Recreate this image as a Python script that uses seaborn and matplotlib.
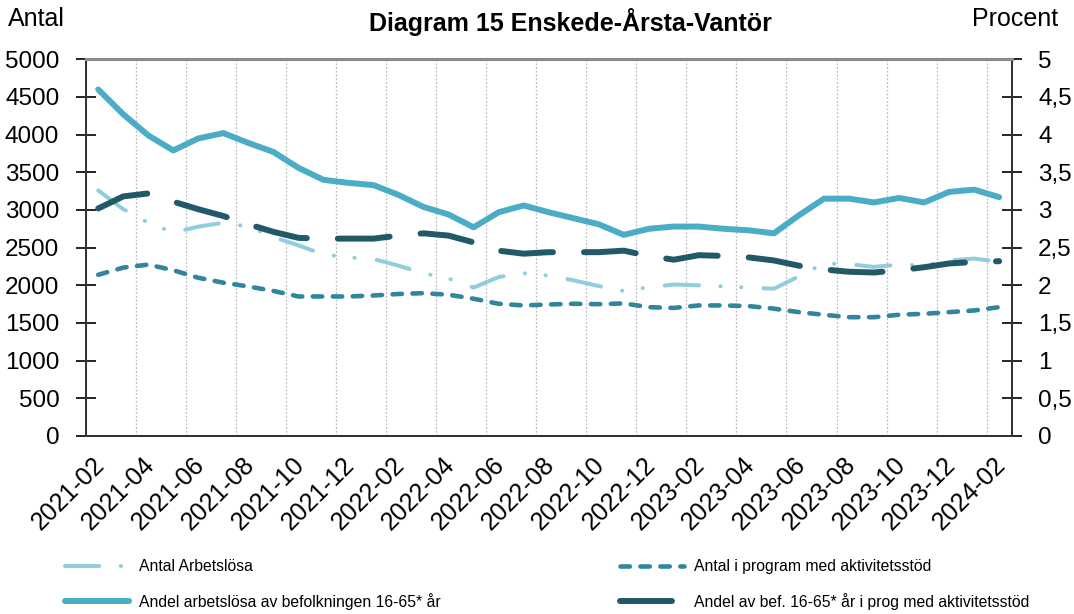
import numpy as np
import pandas as pd
import matplotlib
matplotlib.use("Agg")
import matplotlib.pyplot as plt
import matplotlib.transforms as mtransforms
import seaborn as sns

# ---------------- data ----------------
months = ["2021-02", "2021-03", "2021-04", "2021-05", "2021-06", "2021-07", "2021-08",
          "2021-09", "2021-10", "2021-11", "2021-12", "2022-01", "2022-02", "2022-03",
          "2022-04", "2022-05", "2022-06", "2022-07", "2022-08", "2022-09", "2022-10",
          "2022-11", "2022-12", "2023-01", "2023-02", "2023-03", "2023-04", "2023-05",
          "2023-06", "2023-07", "2023-08", "2023-09", "2023-10", "2023-11", "2023-12",
          "2024-01", "2024-02"]

antal_arbetslosa = [3260, 3010, 2830, 2700, 2780, 2830, 2780, 2640, 2530, 2410, 2370, 2350,
                    2260, 2160, 2090, 1970, 2110, 2160, 2130, 2065, 1990, 1925, 1975, 2010,
                    2000, 1985, 1970, 1955, 2120, 2290, 2280, 2245, 2275, 2265, 2330, 2355,
                    2315]

antal_program = [2140, 2235, 2275, 2200, 2100, 2035, 1985, 1925, 1852, 1852, 1852, 1865,
                 1885, 1896, 1875, 1822, 1755, 1733, 1746, 1755, 1750, 1760, 1710, 1700,
                 1733, 1733, 1724, 1690, 1644, 1609, 1577, 1577, 1609, 1622, 1644, 1666,
                 1710]

andel_arbetslosa = [4.60, 4.27, 3.99, 3.79, 3.95, 4.02, 3.89, 3.77, 3.56, 3.40, 3.36, 3.33,
                    3.20, 3.04, 2.94, 2.77, 2.97, 3.06, 2.97, 2.89, 2.81, 2.67, 2.75, 2.78,
                    2.78, 2.75, 2.73, 2.69, 2.93, 3.15, 3.15, 3.10, 3.16, 3.10, 3.24, 3.27,
                    3.17]

andel_program = [3.02, 3.18, 3.22, 3.11, 3.01, 2.92, 2.81, 2.71, 2.63, 2.62, 2.62, 2.62,
                 2.66, 2.69, 2.66, 2.57, 2.46, 2.42, 2.44, 2.44, 2.44, 2.46, 2.39, 2.34,
                 2.40, 2.39, 2.37, 2.33, 2.26, 2.21, 2.18, 2.17, 2.20, 2.24, 2.29, 2.31,
                 2.32]

labels = ["Antal Arbetslösa",
          "Antal i program med aktivitetsstöd",
          "Andel arbetslösa av befolkningen 16-65* år",
          "Andel av bef. 16-65* år i prog med aktivitetsstöd"]

left_ticks = [0, 500, 1000, 1500, 2000, 2500, 3000, 3500, 4000, 4500, 5000]
right_ticks = [0, 0.5, 1, 1.5, 2, 2.5, 3, 3.5, 4, 4.5, 5]
right_ticklabels = ["0", "0,5", "1", "1,5", "2", "2,5", "3", "3,5", "4", "4,5", "5"]

C_LIGHT = "#92CDDC"
C_MED = "#31859C"
C_SOLID = "#4BACC6"
C_DARK = "#215968"

# ---------------- plot ----------------
sns.set_theme(style="white")
plt.rcParams["font.family"] = ["Liberation Sans", "DejaVu Sans"]
plt.rcParams["text.color"] = "black"
plt.rcParams["axes.labelcolor"] = "black"
plt.rcParams["xtick.color"] = "black"
plt.rcParams["ytick.color"] = "black"

W, H = 1074, 614
fig = plt.figure(figsize=(W / 100, H / 100), dpi=100)
L, R, T, B = 85.7, 1011.7, 59.3, 436.0
ax = fig.add_axes([L / W, 1 - B / H, (R - L) / W, (B - T) / H])
ax2 = ax.twinx()

df = pd.DataFrame({
    "idx": np.arange(len(months)),
    "month": months,
    "antal_arbetslosa": antal_arbetslosa,
    "antal_program": antal_program,
    "andel_arbetslosa": andel_arbetslosa,
    "andel_program": andel_program,
})

def draw(axis, col, color, lw, dashes, label):
    sns.lineplot(data=df, x="idx", y=col, ax=axis, color=color, linewidth=lw,
                 label=label, legend=False, errorbar=None)
    line = axis.lines[-1]
    if dashes is not None:
        line.set_dashes(dashes)
    line.set_dash_capstyle("round")
    line.set_solid_capstyle("round")
    line.set_dash_joinstyle("round")
    line.set_solid_joinstyle("round")
    return line

l_med = draw(ax, "antal_program", C_MED, 3.3, (2.05, 2.3), labels[1])
l_light = draw(ax, "antal_arbetslosa", C_LIGHT, 2.9, (8.5, 5.35, 0.05, 5.1, 0.05, 5.5), labels[0])
l_solid = draw(ax2, "andel_arbetslosa", C_SOLID, 4.3, None, labels[2])
l_dark = draw(ax2, "andel_program", C_DARK, 4.3, (8.7, 5.2), labels[3])

TS = 17.5
for a in (ax, ax2):
    a.set_xlim(-0.5, len(months) - 0.5)
    a.set_xlabel("")
    a.set_ylabel("")
    a.grid(False)

ax.set_ylim(0, 5000)
ax2.set_ylim(0, 5)
ax.set_yticks(left_ticks)
ax.set_yticklabels([str(v) for v in left_ticks])
ax2.set_yticks(right_ticks)
ax2.set_yticklabels(right_ticklabels)

# x ticks: labels at every second month, tick marks / grid at category boundaries
ax.set_xticks(np.arange(0, len(months), 2))
ax.set_xticklabels(months[::2], rotation=45, ha="right", va="top", rotation_mode="anchor")
ax.set_xticks(np.arange(-0.5, len(months) - 0.5, 2), minor=True)
ax.tick_params(axis="x", which="major", length=0, pad=12, labelsize=18, colors="black")
ax.tick_params(axis="x", which="minor", length=12, width=1.2, direction="inout", color="#333333")
ax.grid(True, which="minor", axis="x", color="#BDBDBD", linestyle=(0, (1.5, 1.5)), linewidth=0.9)
ax.set_axisbelow(True)
shift = mtransforms.ScaledTranslation(-6 / 100, 0, fig.dpi_scale_trans)
for t in ax.xaxis.get_major_ticks():
    t.label1.set_transform(t.label1.get_transform() + shift)

ax.tick_params(axis="y", which="major", length=14, width=1.2, direction="inout",
               labelsize=TS, colors="black", pad=12, left=True)
ax2.tick_params(axis="y", which="major", length=14, width=1.2, direction="inout",
                labelsize=TS, colors="black", pad=12, right=True)
ax2.tick_params(axis="x", bottom=False, labelbottom=False)

for a in (ax, ax2):
    a.spines["top"].set_color("#8C8C8C")
    a.spines["top"].set_linewidth(2.2)
    for s in ("left", "right", "bottom"):
        a.spines[s].set_color("#333333")
        a.spines[s].set_linewidth(1.4)

# texts
fig.text(8 / W, 1 - 19 / H, "Antal", ha="left", va="center", fontsize=18)
fig.text(1058 / W, 1 - 19 / H, "Procent", ha="right", va="center", fontsize=18)
fig.text(570 / W, 1 - 22 / H, "Diagram 15 Enskede-Årsta-Vantör", ha="center", va="center",
         fontsize=18, fontweight="bold")

# legends (two columns)
leg_kw = dict(loc="upper left", frameon=False, fontsize=11.3, handlelength=4.1,
              handletextpad=0.6, labelspacing=1.2, borderpad=0, borderaxespad=0)
leg1 = fig.legend([l_light, l_solid], [labels[0], labels[2]],
                  bbox_to_anchor=(65 / W, 1 - 559 / H), **leg_kw)
leg2 = fig.legend([l_med, l_dark], [labels[1], labels[3]],
                  bbox_to_anchor=(620 / W, 1 - 559 / H), **leg_kw)

fig.savefig("out.png", dpi=100)
